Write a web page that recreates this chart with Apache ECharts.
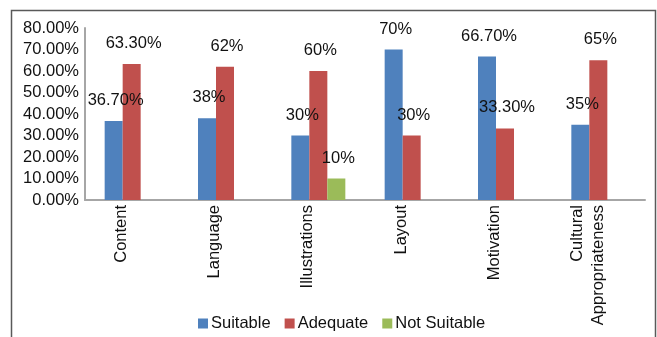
<!DOCTYPE html>
<html>
<head>
<meta charset="utf-8">
<script src="https://cdn.jsdelivr.net/npm/echarts@6/dist/echarts.min.js"></script>
<style>
  html, body { margin: 0; padding: 0; background: #fff; }
  #chart { width: 657px; height: 337px; }
</style>
</head>
<body>
<div id="chart"></div>
<script>
// categories and values (percent)
const categories = ["Content", "Language", "Illustrations", "Layout", "Motivation", "Cultural\nAppropriateness"];
const suitable = [36.7, 38, 30, 70, 66.7, 35];
const adequate = [63.3, 62, 60, 30, 33.3, 65];
const notSuitable = [null, null, 10, null, null, null];

const FONT = "'Liberation Sans', Arial, sans-serif";

// excel style: whole numbers without decimals, others with two
function pct(v) {
  return Number.isInteger(v) ? v + "%" : v.toFixed(2) + "%";
}

function makeSeries(name, data, color) {
  return {
    name: name,
    type: "bar",
    data: data,
    barWidth: 18,
    barGap: "0%",
    itemStyle: { color: color },
    label: {
      show: true,
      position: "top",
      distance: 12,
      offset: [2, 0],
      color: "#111",
      fontSize: 16.5,
      fontFamily: FONT,
      formatter: p => pct(p.value)
    }
  };
}

const chart = echarts.init(document.getElementById("chart"));
chart.setOption({
  animation: false,
  backgroundColor: "#fff",
  graphic: [{
    type: "rect",
    shape: { x: 11.5, y: 10.5, width: 644, height: 340 },
    style: { fill: "none", stroke: "#595959", lineWidth: 1.5 },
    z: -1
  }],
  grid: { left: 85, right: 12, top: 28, bottom: 137 },
  legend: {
    left: 193,
    top: 310,
    icon: "rect",
    itemWidth: 10,
    itemHeight: 10,
    itemGap: 14,
    textStyle: { fontSize: 16.5, fontFamily: FONT, color: "#111", padding: [0, 0, 0, -2] },
    data: ["Suitable", "Adequate", "Not Suitable"]
  },
  xAxis: {
    type: "category",
    data: categories,
    axisLine: { lineStyle: { color: "#a6a6a6", width: 2 } },
    axisTick: { show: false },
    axisLabel: {
      rotate: 90,
      margin: 5,
      interval: 0,
      color: "#111",
      fontSize: 16.5,
      fontFamily: FONT,
      lineHeight: 21,
      // trailing blank line nudges the rotated text left like the original
      formatter: v => v + "\n "
    }
  },
  yAxis: {
    type: "value",
    min: 0,
    max: 80,
    interval: 10,
    axisLine: { show: true, lineStyle: { color: "#a6a6a6", width: 2 } },
    axisTick: { show: false },
    splitLine: { show: false },
    axisLabel: {
      margin: 6,
      color: "#111",
      fontSize: 16.5,
      fontFamily: FONT,
      formatter: v => v.toFixed(2) + "%"
    }
  },
  series: [
    makeSeries("Suitable", suitable, "#4F81BD"),
    makeSeries("Adequate", adequate, "#C0504D"),
    makeSeries("Not Suitable", notSuitable, "#9BBB59")
  ]
});
</script>
</body>
</html>
